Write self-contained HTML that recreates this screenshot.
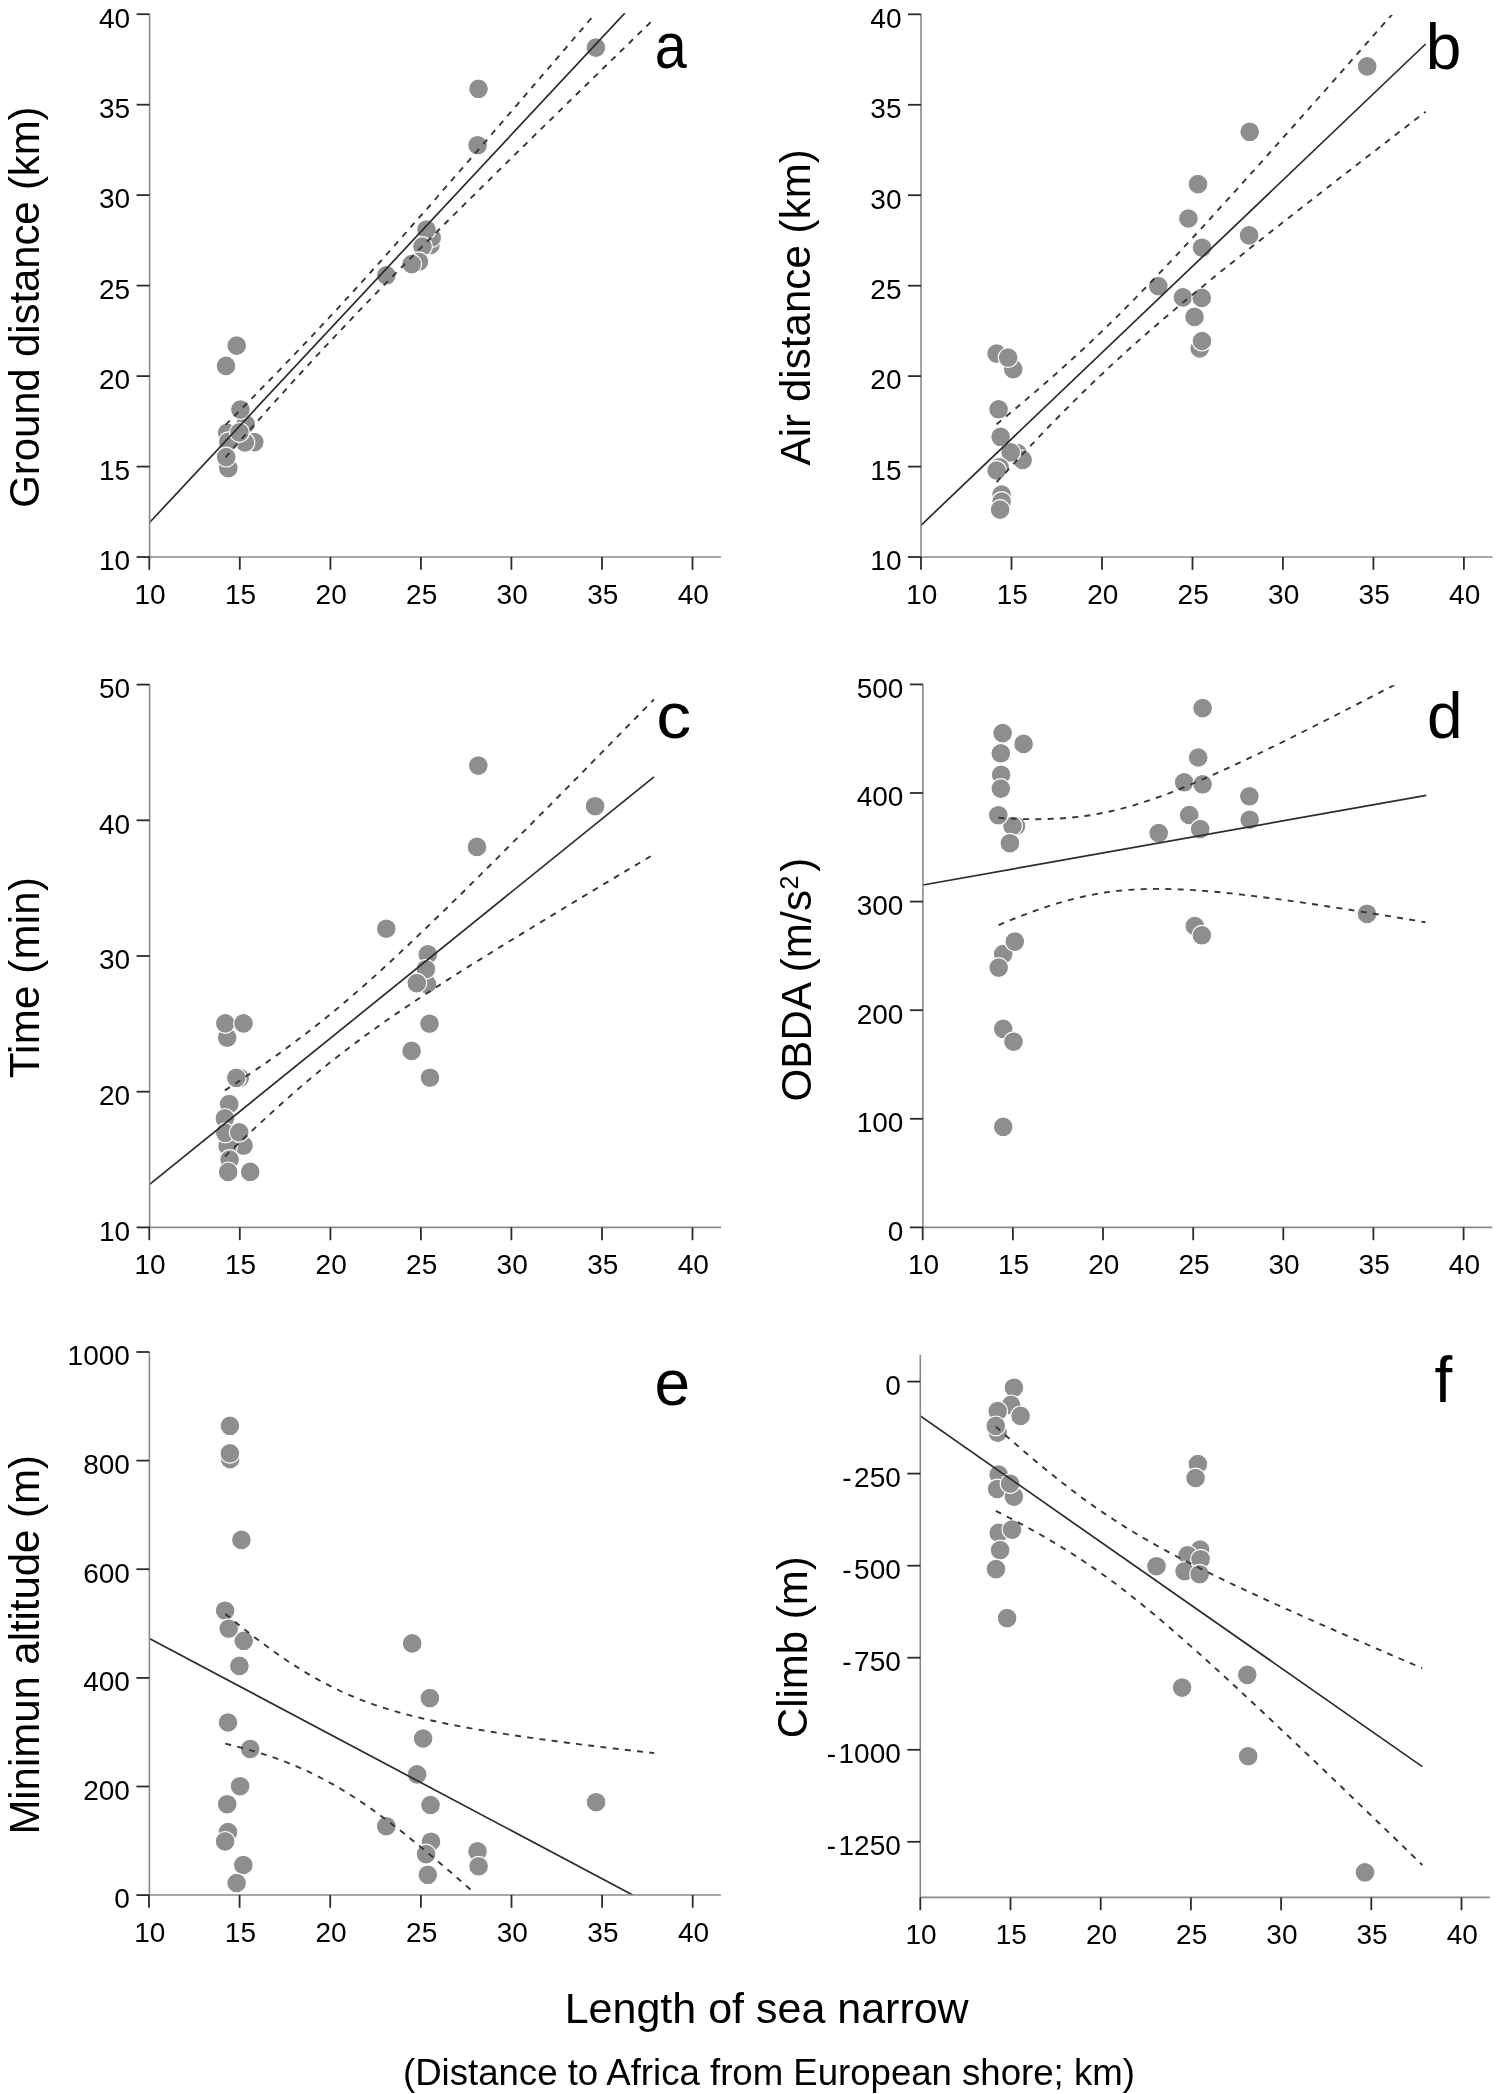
<!DOCTYPE html>
<html><head><meta charset="utf-8"><title>Figure</title>
<style>html,body{margin:0;padding:0;background:#fff;}body{width:1498px;height:2094px;position:relative;overflow:hidden;font-family:"Liberation Sans",sans-serif;}</style>
</head><body>
<svg width="1498" height="2094" viewBox="0 0 1498 2094" style="position:absolute;left:0;top:0;will-change:transform">
<defs>
<clipPath id="clipa"><rect x="149.6" y="13.2" width="571.4" height="543.8"/></clipPath>
<clipPath id="bclipa"><rect x="149.6" y="15.0" width="571.4" height="538.0"/></clipPath>
<clipPath id="clipb"><rect x="921.0" y="13.3" width="571.6" height="543.7"/></clipPath>
<clipPath id="bclipb"><rect x="921.0" y="15.1" width="571.6" height="537.9"/></clipPath>
<clipPath id="clipc"><rect x="149.6" y="683.6" width="571.4" height="543.8"/></clipPath>
<clipPath id="bclipc"><rect x="149.6" y="685.4" width="571.4" height="538.0"/></clipPath>
<clipPath id="clipd"><rect x="922.9" y="683.4" width="569.3" height="544.0"/></clipPath>
<clipPath id="bclipd"><rect x="922.9" y="685.2" width="569.3" height="538.2"/></clipPath>
<clipPath id="clipe"><rect x="149.4" y="1351.0" width="571.5" height="544.0"/></clipPath>
<clipPath id="bclipe"><rect x="149.4" y="1352.8" width="571.5" height="538.2"/></clipPath>
<clipPath id="clipf"><rect x="920.3" y="1353.8" width="569.5" height="543.6"/></clipPath>
<clipPath id="bclipf"><rect x="920.3" y="1355.6" width="569.5" height="537.8"/></clipPath>
</defs>
<g fill="#8e8e8e" stroke="#fff" stroke-width="1.2">
<circle cx="236.7" cy="345.6" r="9.9"/>
<circle cx="226.0" cy="365.9" r="9.9"/>
<circle cx="245.7" cy="424.2" r="9.9"/>
<circle cx="240.4" cy="409.6" r="9.9"/>
<circle cx="227.1" cy="432.8" r="9.9"/>
<circle cx="254.3" cy="442.1" r="9.9"/>
<circle cx="244.9" cy="442.5" r="9.9"/>
<circle cx="228.3" cy="441.7" r="9.9"/>
<circle cx="239.4" cy="432.4" r="9.9"/>
<circle cx="228.3" cy="468.1" r="9.9"/>
<circle cx="226.2" cy="457.1" r="9.9"/>
<circle cx="430.5" cy="244.9" r="9.9"/>
<circle cx="431.7" cy="237.7" r="9.9"/>
<circle cx="426.5" cy="229.6" r="9.9"/>
<circle cx="422.5" cy="246.5" r="9.9"/>
<circle cx="418.9" cy="261.7" r="9.9"/>
<circle cx="411.7" cy="264.1" r="9.9"/>
<circle cx="386.4" cy="275.3" r="9.9"/>
<circle cx="478.5" cy="88.8" r="9.9"/>
<circle cx="477.6" cy="145.2" r="9.9"/>
<circle cx="595.9" cy="47.6" r="9.9"/>
</g>
<g clip-path="url(#clipa)" fill="none" stroke="#2b2b2b">
<line x1="149.6" y1="522.5" x2="653.5" y2="-17.6" stroke-width="1.7"/>
</g>
<g clip-path="url(#bclipa)" fill="none" stroke="#2b2b2b">
<path d="M225.5,424.9 L230.9,419.5 L236.3,414.0 L241.8,408.6 L247.2,403.1 L252.6,397.6 L258.0,392.1 L263.4,386.5 L268.8,381.0 L274.3,375.4 L279.7,369.8 L285.1,364.2 L290.5,358.6 L295.9,352.9 L301.3,347.2 L306.8,341.5 L312.2,335.8 L317.6,330.0 L323.0,324.2 L328.4,318.4 L333.9,312.6 L339.3,306.7 L344.7,300.8 L350.1,294.9 L355.5,289.0 L360.9,283.0 L366.4,277.0 L371.8,271.0 L377.2,265.0 L382.6,258.9 L388.0,252.9 L393.4,246.8 L398.9,240.7 L404.3,234.5 L409.7,228.4 L415.1,222.2 L420.5,216.1 L426.0,209.9 L431.4,203.7 L436.8,197.5 L442.2,191.3 L447.6,185.1 L453.0,178.8 L458.5,172.6 L463.9,166.4 L469.3,160.1 L474.7,153.9 L480.1,147.6 L485.6,141.3 L491.0,135.1 L496.4,128.8 L501.8,122.5 L507.2,116.2 L512.6,109.9 L518.1,103.6 L523.5,97.3 L528.9,91.0 L534.3,84.7 L539.7,78.4 L545.1,72.1 L550.6,65.8 L556.0,59.4 L561.4,53.1 L566.8,46.8 L572.2,40.5 L577.7,34.1 L583.1,27.8 L588.5,21.5 L593.9,15.1 L599.3,8.8 L604.7,2.5 L610.2,-3.9 L615.6,-10.2 L621.0,-16.5 L626.4,-22.9 L631.8,-29.2 L637.2,-35.6 L642.7,-41.9 L648.1,-48.3 L653.5,-54.6" stroke-width="1.9" stroke="#363636" stroke-dasharray="6 6.3"/>
<path d="M225.5,457.4 L230.9,451.2 L236.3,445.1 L241.8,438.9 L247.2,432.8 L252.6,426.7 L258.0,420.6 L263.4,414.5 L268.8,408.4 L274.3,402.4 L279.7,396.3 L285.1,390.3 L290.5,384.4 L295.9,378.4 L301.3,372.5 L306.8,366.6 L312.2,360.7 L317.6,354.8 L323.0,349.0 L328.4,343.2 L333.9,337.4 L339.3,331.7 L344.7,326.0 L350.1,320.3 L355.5,314.6 L360.9,308.9 L366.4,303.3 L371.8,297.7 L377.2,292.1 L382.6,286.6 L388.0,281.0 L393.4,275.5 L398.9,270.0 L404.3,264.5 L409.7,259.0 L415.1,253.6 L420.5,248.1 L426.0,242.7 L431.4,237.3 L436.8,231.8 L442.2,226.4 L447.6,221.0 L453.0,215.7 L458.5,210.3 L463.9,204.9 L469.3,199.5 L474.7,194.2 L480.1,188.8 L485.6,183.5 L491.0,178.2 L496.4,172.8 L501.8,167.5 L507.2,162.2 L512.6,156.8 L518.1,151.5 L523.5,146.2 L528.9,140.9 L534.3,135.6 L539.7,130.3 L545.1,125.0 L550.6,119.7 L556.0,114.4 L561.4,109.1 L566.8,103.8 L572.2,98.5 L577.7,93.2 L583.1,88.0 L588.5,82.7 L593.9,77.4 L599.3,72.1 L604.7,66.8 L610.2,61.6 L615.6,56.3 L621.0,51.0 L626.4,45.7 L631.8,40.5 L637.2,35.2 L642.7,29.9 L648.1,24.7 L653.5,19.4" stroke-width="1.9" stroke="#363636" stroke-dasharray="6 6.3"/>
</g>
<g stroke="#8a8a8a" stroke-width="1.6" fill="none">
<line x1="149.6" y1="14.2" x2="149.6" y2="557.0"/>
<line x1="149.6" y1="557.0" x2="721.0" y2="557.0"/>
</g>
<g stroke="#2a2a2a" stroke-width="1.8" fill="none">
<line x1="136.6" y1="14.2" x2="149.6" y2="14.2"/>
<line x1="136.6" y1="104.7" x2="149.6" y2="104.7"/>
<line x1="136.6" y1="195.1" x2="149.6" y2="195.1"/>
<line x1="136.6" y1="285.6" x2="149.6" y2="285.6"/>
<line x1="136.6" y1="376.1" x2="149.6" y2="376.1"/>
<line x1="136.6" y1="466.6" x2="149.6" y2="466.6"/>
<line x1="136.6" y1="557.0" x2="149.6" y2="557.0"/>
<line x1="149.3" y1="557.0" x2="149.3" y2="569.8"/>
<line x1="239.8" y1="557.0" x2="239.8" y2="569.8"/>
<line x1="330.4" y1="557.0" x2="330.4" y2="569.8"/>
<line x1="420.9" y1="557.0" x2="420.9" y2="569.8"/>
<line x1="511.4" y1="557.0" x2="511.4" y2="569.8"/>
<line x1="602.0" y1="557.0" x2="602.0" y2="569.8"/>
<line x1="692.5" y1="557.0" x2="692.5" y2="569.8"/>
</g>
<g font-family='"Liberation Sans", sans-serif' font-size="28" fill="#000">
<text x="130.1" y="27.5" text-anchor="end">40</text>
<text x="130.1" y="118.0" text-anchor="end">35</text>
<text x="130.1" y="208.4" text-anchor="end">30</text>
<text x="130.1" y="298.9" text-anchor="end">25</text>
<text x="130.1" y="389.4" text-anchor="end">20</text>
<text x="130.1" y="479.9" text-anchor="end">15</text>
<text x="130.1" y="570.3" text-anchor="end">10</text>
<text x="150.1" y="603.7" text-anchor="middle">10</text>
<text x="240.6" y="603.7" text-anchor="middle">15</text>
<text x="331.2" y="603.7" text-anchor="middle">20</text>
<text x="421.7" y="603.7" text-anchor="middle">25</text>
<text x="512.2" y="603.7" text-anchor="middle">30</text>
<text x="602.8" y="603.7" text-anchor="middle">35</text>
<text x="693.3" y="603.7" text-anchor="middle">40</text>
</g>
<text transform="translate(38.6,507.7) rotate(-90)" font-family='"Liberation Sans", sans-serif' font-size="42" textLength="401.3" lengthAdjust="spacing">Ground distance (km)</text>
<text transform="translate(654.7,68.4) scale(0.9,1)" font-family='"Liberation Sans", sans-serif' font-size="64">a</text>
<g fill="#8e8e8e" stroke="#fff" stroke-width="1.2">
<circle cx="996.6" cy="353.6" r="9.9"/>
<circle cx="1013.2" cy="369.1" r="9.9"/>
<circle cx="1008.1" cy="357.6" r="9.9"/>
<circle cx="998.6" cy="409.3" r="9.9"/>
<circle cx="1000.6" cy="436.8" r="9.9"/>
<circle cx="1017.5" cy="453.0" r="9.9"/>
<circle cx="1022.7" cy="459.9" r="9.9"/>
<circle cx="1010.7" cy="452.4" r="9.9"/>
<circle cx="999.6" cy="467.4" r="9.9"/>
<circle cx="996.6" cy="470.5" r="9.9"/>
<circle cx="1001.6" cy="494.5" r="9.9"/>
<circle cx="1001.6" cy="501.5" r="9.9"/>
<circle cx="1000.1" cy="509.6" r="9.9"/>
<circle cx="1198.0" cy="184.1" r="9.9"/>
<circle cx="1188.4" cy="218.5" r="9.9"/>
<circle cx="1202.0" cy="247.7" r="9.9"/>
<circle cx="1249.1" cy="235.4" r="9.9"/>
<circle cx="1158.3" cy="286.1" r="9.9"/>
<circle cx="1182.9" cy="297.4" r="9.9"/>
<circle cx="1201.7" cy="297.9" r="9.9"/>
<circle cx="1194.5" cy="316.9" r="9.9"/>
<circle cx="1199.7" cy="348.5" r="9.9"/>
<circle cx="1202.0" cy="341.0" r="9.9"/>
<circle cx="1249.7" cy="131.8" r="9.9"/>
<circle cx="1367.2" cy="66.4" r="9.9"/>
</g>
<g clip-path="url(#clipb)" fill="none" stroke="#2b2b2b">
<line x1="921.0" y1="525.3" x2="1425.6" y2="44.0" stroke-width="1.7"/>
</g>
<g clip-path="url(#bclipb)" fill="none" stroke="#2b2b2b">
<path d="M996.6,424.2 L1002.0,419.8 L1007.5,415.3 L1012.9,410.7 L1018.3,406.2 L1023.8,401.6 L1029.2,397.0 L1034.6,392.4 L1040.0,387.7 L1045.5,383.0 L1050.9,378.2 L1056.3,373.5 L1061.8,368.6 L1067.2,363.7 L1072.6,358.8 L1078.1,353.8 L1083.5,348.8 L1088.9,343.7 L1094.3,338.6 L1099.8,333.4 L1105.2,328.2 L1110.6,322.9 L1116.1,317.6 L1121.5,312.2 L1126.9,306.7 L1132.4,301.2 L1137.8,295.7 L1143.2,290.1 L1148.7,284.5 L1154.1,278.9 L1159.5,273.2 L1164.9,267.4 L1170.4,261.7 L1175.8,255.9 L1181.2,250.1 L1186.7,244.2 L1192.1,238.4 L1197.5,232.5 L1203.0,226.6 L1208.4,220.7 L1213.8,214.7 L1219.2,208.7 L1224.7,202.8 L1230.1,196.8 L1235.5,190.8 L1241.0,184.7 L1246.4,178.7 L1251.8,172.7 L1257.3,166.6 L1262.7,160.6 L1268.1,154.5 L1273.5,148.4 L1279.0,142.3 L1284.4,136.2 L1289.8,130.1 L1295.3,124.0 L1300.7,117.9 L1306.1,111.8 L1311.6,105.7 L1317.0,99.5 L1322.4,93.4 L1327.9,87.3 L1333.3,81.1 L1338.7,75.0 L1344.1,68.8 L1349.6,62.7 L1355.0,56.5 L1360.4,50.4 L1365.9,44.2 L1371.3,38.1 L1376.7,31.9 L1382.2,25.7 L1387.6,19.5 L1393.0,13.4 L1398.4,7.2 L1403.9,1.0 L1409.3,-5.2 L1414.7,-11.3 L1420.2,-17.5 L1425.6,-23.7" stroke-width="1.9" stroke="#363636" stroke-dasharray="6 6.3"/>
<path d="M996.6,482.1 L1002.0,476.2 L1007.5,470.4 L1012.9,464.5 L1018.3,458.7 L1023.8,452.9 L1029.2,447.2 L1034.6,441.5 L1040.0,435.8 L1045.5,430.1 L1050.9,424.5 L1056.3,419.0 L1061.8,413.4 L1067.2,408.0 L1072.6,402.5 L1078.1,397.1 L1083.5,391.8 L1088.9,386.5 L1094.3,381.3 L1099.8,376.1 L1105.2,371.0 L1110.6,365.9 L1116.1,360.9 L1121.5,356.0 L1126.9,351.0 L1132.4,346.2 L1137.8,341.3 L1143.2,336.5 L1148.7,331.8 L1154.1,327.1 L1159.5,322.4 L1164.9,317.8 L1170.4,313.2 L1175.8,308.6 L1181.2,304.1 L1186.7,299.6 L1192.1,295.1 L1197.5,290.6 L1203.0,286.2 L1208.4,281.7 L1213.8,277.3 L1219.2,272.9 L1224.7,268.5 L1230.1,264.2 L1235.5,259.8 L1241.0,255.5 L1246.4,251.2 L1251.8,246.8 L1257.3,242.5 L1262.7,238.2 L1268.1,233.9 L1273.5,229.7 L1279.0,225.4 L1284.4,221.1 L1289.8,216.9 L1295.3,212.6 L1300.7,208.4 L1306.1,204.1 L1311.6,199.9 L1317.0,195.7 L1322.4,191.4 L1327.9,187.2 L1333.3,183.0 L1338.7,178.8 L1344.1,174.6 L1349.6,170.4 L1355.0,166.2 L1360.4,162.0 L1365.9,157.8 L1371.3,153.6 L1376.7,149.4 L1382.2,145.2 L1387.6,141.0 L1393.0,136.8 L1398.4,132.6 L1403.9,128.5 L1409.3,124.3 L1414.7,120.1 L1420.2,115.9 L1425.6,111.8" stroke-width="1.9" stroke="#363636" stroke-dasharray="6 6.3"/>
</g>
<g stroke="#8a8a8a" stroke-width="1.6" fill="none">
<line x1="921.0" y1="14.3" x2="921.0" y2="557.0"/>
<line x1="921.0" y1="557.0" x2="1492.6" y2="557.0"/>
</g>
<g stroke="#2a2a2a" stroke-width="1.8" fill="none">
<line x1="908.0" y1="14.3" x2="921.0" y2="14.3"/>
<line x1="908.0" y1="104.8" x2="921.0" y2="104.8"/>
<line x1="908.0" y1="195.2" x2="921.0" y2="195.2"/>
<line x1="908.0" y1="285.7" x2="921.0" y2="285.7"/>
<line x1="908.0" y1="376.1" x2="921.0" y2="376.1"/>
<line x1="908.0" y1="466.6" x2="921.0" y2="466.6"/>
<line x1="908.0" y1="557.0" x2="921.0" y2="557.0"/>
<line x1="921.0" y1="557.0" x2="921.0" y2="569.8"/>
<line x1="1011.5" y1="557.0" x2="1011.5" y2="569.8"/>
<line x1="1102.0" y1="557.0" x2="1102.0" y2="569.8"/>
<line x1="1192.5" y1="557.0" x2="1192.5" y2="569.8"/>
<line x1="1282.9" y1="557.0" x2="1282.9" y2="569.8"/>
<line x1="1373.4" y1="557.0" x2="1373.4" y2="569.8"/>
<line x1="1463.9" y1="557.0" x2="1463.9" y2="569.8"/>
</g>
<g font-family='"Liberation Sans", sans-serif' font-size="28" fill="#000">
<text x="901.5" y="27.6" text-anchor="end">40</text>
<text x="901.5" y="118.0" text-anchor="end">35</text>
<text x="901.5" y="208.5" text-anchor="end">30</text>
<text x="901.5" y="299.0" text-anchor="end">25</text>
<text x="901.5" y="389.4" text-anchor="end">20</text>
<text x="901.5" y="479.9" text-anchor="end">15</text>
<text x="901.5" y="570.3" text-anchor="end">10</text>
<text x="921.8" y="603.7" text-anchor="middle">10</text>
<text x="1012.3" y="603.7" text-anchor="middle">15</text>
<text x="1102.8" y="603.7" text-anchor="middle">20</text>
<text x="1193.2" y="603.7" text-anchor="middle">25</text>
<text x="1283.7" y="603.7" text-anchor="middle">30</text>
<text x="1374.2" y="603.7" text-anchor="middle">35</text>
<text x="1464.7" y="603.7" text-anchor="middle">40</text>
</g>
<text transform="translate(810.0,465.4) rotate(-90)" font-family='"Liberation Sans", sans-serif' font-size="42" textLength="316.2" lengthAdjust="spacing">Air distance (km)</text>
<text x="1425.7" y="69.3" font-family='"Liberation Sans", sans-serif' font-size="64">b</text>
<g fill="#8e8e8e" stroke="#fff" stroke-width="1.2">
<circle cx="227.2" cy="1037.7" r="9.9"/>
<circle cx="225.3" cy="1023.4" r="9.9"/>
<circle cx="243.5" cy="1023.4" r="9.9"/>
<circle cx="239.7" cy="1077.8" r="9.9"/>
<circle cx="236.3" cy="1077.8" r="9.9"/>
<circle cx="229.2" cy="1104.1" r="9.9"/>
<circle cx="224.9" cy="1118.4" r="9.9"/>
<circle cx="243.5" cy="1145.7" r="9.9"/>
<circle cx="227.7" cy="1146.1" r="9.9"/>
<circle cx="225.3" cy="1132.8" r="9.9"/>
<circle cx="239.2" cy="1132.3" r="9.9"/>
<circle cx="229.6" cy="1159.5" r="9.9"/>
<circle cx="228.2" cy="1171.9" r="9.9"/>
<circle cx="250.2" cy="1171.9" r="9.9"/>
<circle cx="386.3" cy="928.7" r="9.9"/>
<circle cx="427.8" cy="954.4" r="9.9"/>
<circle cx="426.9" cy="984.0" r="9.9"/>
<circle cx="425.9" cy="969.2" r="9.9"/>
<circle cx="416.8" cy="983.1" r="9.9"/>
<circle cx="429.5" cy="1023.7" r="9.9"/>
<circle cx="411.6" cy="1050.9" r="9.9"/>
<circle cx="430.0" cy="1077.7" r="9.9"/>
<circle cx="478.3" cy="765.6" r="9.9"/>
<circle cx="477.0" cy="846.9" r="9.9"/>
<circle cx="595.1" cy="806.2" r="9.9"/>
</g>
<g clip-path="url(#clipc)" fill="none" stroke="#2b2b2b">
<line x1="149.6" y1="1184.3" x2="654.0" y2="776.8" stroke-width="1.7"/>
</g>
<g clip-path="url(#bclipc)" fill="none" stroke="#2b2b2b">
<path d="M224.9,1090.4 L230.3,1086.9 L235.8,1083.3 L241.2,1079.7 L246.6,1076.0 L252.1,1072.3 L257.5,1068.6 L262.9,1064.9 L268.4,1061.1 L273.8,1057.3 L279.2,1053.4 L284.6,1049.5 L290.1,1045.5 L295.5,1041.4 L300.9,1037.4 L306.4,1033.2 L311.8,1029.0 L317.2,1024.8 L322.7,1020.4 L328.1,1016.1 L333.5,1011.6 L339.0,1007.1 L344.4,1002.5 L349.8,997.9 L355.3,993.2 L360.7,988.5 L366.1,983.7 L371.6,978.9 L377.0,974.0 L382.4,969.0 L387.8,964.1 L393.3,959.0 L398.7,954.0 L404.1,948.9 L409.6,943.8 L415.0,938.6 L420.4,933.4 L425.9,928.2 L431.3,923.0 L436.7,917.7 L442.2,912.5 L447.6,907.2 L453.0,901.9 L458.5,896.5 L463.9,891.2 L469.3,885.8 L474.8,880.4 L480.2,875.1 L485.6,869.7 L491.1,864.3 L496.5,858.8 L501.9,853.4 L507.3,848.0 L512.8,842.5 L518.2,837.1 L523.6,831.6 L529.1,826.2 L534.5,820.7 L539.9,815.2 L545.4,809.8 L550.8,804.3 L556.2,798.8 L561.7,793.3 L567.1,787.8 L572.5,782.3 L578.0,776.8 L583.4,771.3 L588.8,765.7 L594.3,760.2 L599.7,754.7 L605.1,749.2 L610.5,743.6 L616.0,738.1 L621.4,732.6 L626.8,727.0 L632.3,721.5 L637.7,716.0 L643.1,710.4 L648.6,704.9 L654.0,699.3" stroke-width="1.9" stroke="#363636" stroke-dasharray="6 6.3"/>
<path d="M224.9,1156.4 L230.3,1151.2 L235.8,1146.0 L241.2,1140.9 L246.6,1135.7 L252.1,1130.6 L257.5,1125.6 L262.9,1120.6 L268.4,1115.6 L273.8,1110.6 L279.2,1105.7 L284.6,1100.9 L290.1,1096.1 L295.5,1091.3 L300.9,1086.6 L306.4,1082.0 L311.8,1077.4 L317.2,1072.9 L322.7,1068.5 L328.1,1064.1 L333.5,1059.7 L339.0,1055.5 L344.4,1051.3 L349.8,1047.1 L355.3,1043.0 L360.7,1039.0 L366.1,1035.0 L371.6,1031.1 L377.0,1027.2 L382.4,1023.3 L387.8,1019.5 L393.3,1015.8 L398.7,1012.1 L404.1,1008.4 L409.6,1004.7 L415.0,1001.1 L420.4,997.5 L425.9,994.0 L431.3,990.4 L436.7,986.9 L442.2,983.4 L447.6,979.9 L453.0,976.4 L458.5,973.0 L463.9,969.6 L469.3,966.1 L474.8,962.7 L480.2,959.4 L485.6,956.0 L491.1,952.6 L496.5,949.2 L501.9,945.9 L507.3,942.6 L512.8,939.2 L518.2,935.9 L523.6,932.6 L529.1,929.3 L534.5,926.0 L539.9,922.7 L545.4,919.4 L550.8,916.1 L556.2,912.8 L561.7,909.5 L567.1,906.2 L572.5,903.0 L578.0,899.7 L583.4,896.4 L588.8,893.2 L594.3,889.9 L599.7,886.7 L605.1,883.4 L610.5,880.2 L616.0,876.9 L621.4,873.7 L626.8,870.4 L632.3,867.2 L637.7,864.0 L643.1,860.7 L648.6,857.5 L654.0,854.3" stroke-width="1.9" stroke="#363636" stroke-dasharray="6 6.3"/>
</g>
<g stroke="#8a8a8a" stroke-width="1.6" fill="none">
<line x1="149.6" y1="684.6" x2="149.6" y2="1227.4"/>
<line x1="149.6" y1="1227.4" x2="721.0" y2="1227.4"/>
</g>
<g stroke="#2a2a2a" stroke-width="1.8" fill="none">
<line x1="136.6" y1="684.6" x2="149.6" y2="684.6"/>
<line x1="136.6" y1="820.3" x2="149.6" y2="820.3"/>
<line x1="136.6" y1="956.0" x2="149.6" y2="956.0"/>
<line x1="136.6" y1="1091.7" x2="149.6" y2="1091.7"/>
<line x1="136.6" y1="1227.4" x2="149.6" y2="1227.4"/>
<line x1="149.3" y1="1227.4" x2="149.3" y2="1240.2"/>
<line x1="239.8" y1="1227.4" x2="239.8" y2="1240.2"/>
<line x1="330.4" y1="1227.4" x2="330.4" y2="1240.2"/>
<line x1="420.9" y1="1227.4" x2="420.9" y2="1240.2"/>
<line x1="511.4" y1="1227.4" x2="511.4" y2="1240.2"/>
<line x1="602.0" y1="1227.4" x2="602.0" y2="1240.2"/>
<line x1="692.5" y1="1227.4" x2="692.5" y2="1240.2"/>
</g>
<g font-family='"Liberation Sans", sans-serif' font-size="28" fill="#000">
<text x="130.1" y="697.9" text-anchor="end">50</text>
<text x="130.1" y="833.6" text-anchor="end">40</text>
<text x="130.1" y="969.3" text-anchor="end">30</text>
<text x="130.1" y="1105.0" text-anchor="end">20</text>
<text x="130.1" y="1240.7" text-anchor="end">10</text>
<text x="150.1" y="1274.1" text-anchor="middle">10</text>
<text x="240.6" y="1274.1" text-anchor="middle">15</text>
<text x="331.2" y="1274.1" text-anchor="middle">20</text>
<text x="421.7" y="1274.1" text-anchor="middle">25</text>
<text x="512.2" y="1274.1" text-anchor="middle">30</text>
<text x="602.8" y="1274.1" text-anchor="middle">35</text>
<text x="693.3" y="1274.1" text-anchor="middle">40</text>
</g>
<text transform="translate(38.6,1078.2) rotate(-90)" font-family='"Liberation Sans", sans-serif' font-size="42" textLength="201.1" lengthAdjust="spacing">Time (min)</text>
<text transform="translate(656.3,737.5) scale(1.09,1)" font-family='"Liberation Sans", sans-serif' font-size="64">c</text>
<g fill="#8e8e8e" stroke="#fff" stroke-width="1.2">
<circle cx="1002.6" cy="733.1" r="9.9"/>
<circle cx="1023.6" cy="743.9" r="9.9"/>
<circle cx="1000.8" cy="753.3" r="9.9"/>
<circle cx="1001.1" cy="774.8" r="9.9"/>
<circle cx="1000.8" cy="788.6" r="9.9"/>
<circle cx="1016.0" cy="826.0" r="9.9"/>
<circle cx="1012.5" cy="826.0" r="9.9"/>
<circle cx="998.3" cy="815.2" r="9.9"/>
<circle cx="1009.9" cy="843.2" r="9.9"/>
<circle cx="1003.2" cy="954.1" r="9.9"/>
<circle cx="1014.8" cy="941.6" r="9.9"/>
<circle cx="998.7" cy="967.6" r="9.9"/>
<circle cx="1003.2" cy="1028.8" r="9.9"/>
<circle cx="1013.5" cy="1041.7" r="9.9"/>
<circle cx="1003.2" cy="1126.8" r="9.9"/>
<circle cx="1202.6" cy="708.1" r="9.9"/>
<circle cx="1198.2" cy="757.5" r="9.9"/>
<circle cx="1184.1" cy="782.3" r="9.9"/>
<circle cx="1202.6" cy="784.3" r="9.9"/>
<circle cx="1249.4" cy="796.3" r="9.9"/>
<circle cx="1189.2" cy="815.0" r="9.9"/>
<circle cx="1200.2" cy="829.1" r="9.9"/>
<circle cx="1249.7" cy="819.7" r="9.9"/>
<circle cx="1158.7" cy="833.1" r="9.9"/>
<circle cx="1194.8" cy="926.0" r="9.9"/>
<circle cx="1201.9" cy="935.3" r="9.9"/>
<circle cx="1367.0" cy="913.9" r="9.9"/>
</g>
<g clip-path="url(#clipd)" fill="none" stroke="#2b2b2b">
<line x1="922.9" y1="885.0" x2="1426.2" y2="795.3" stroke-width="1.7"/>
</g>
<g clip-path="url(#bclipd)" fill="none" stroke="#2b2b2b">
<path d="M998.5,817.8 L1003.9,818.2 L1009.3,818.5 L1014.7,818.7 L1020.1,818.9 L1025.5,819.1 L1030.9,819.1 L1036.3,819.2 L1041.7,819.1 L1047.1,819.0 L1052.6,818.8 L1058.0,818.6 L1063.4,818.2 L1068.8,817.8 L1074.2,817.3 L1079.6,816.7 L1085.0,816.0 L1090.4,815.2 L1095.8,814.3 L1101.2,813.3 L1106.6,812.2 L1112.0,811.0 L1117.4,809.7 L1122.8,808.3 L1128.2,806.8 L1133.6,805.3 L1139.0,803.6 L1144.4,801.9 L1149.8,800.1 L1155.2,798.2 L1160.7,796.3 L1166.1,794.3 L1171.5,792.3 L1176.9,790.2 L1182.3,788.0 L1187.7,785.8 L1193.1,783.5 L1198.5,781.2 L1203.9,778.9 L1209.3,776.5 L1214.7,774.1 L1220.1,771.7 L1225.5,769.2 L1230.9,766.8 L1236.3,764.2 L1241.7,761.7 L1247.1,759.2 L1252.5,756.6 L1257.9,754.0 L1263.3,751.4 L1268.8,748.7 L1274.2,746.1 L1279.6,743.5 L1285.0,740.8 L1290.4,738.1 L1295.8,735.4 L1301.2,732.7 L1306.6,730.0 L1312.0,727.3 L1317.4,724.5 L1322.8,721.8 L1328.2,719.0 L1333.6,716.3 L1339.0,713.5 L1344.4,710.8 L1349.8,708.0 L1355.2,705.2 L1360.6,702.4 L1366.0,699.6 L1371.4,696.8 L1376.9,694.0 L1382.3,691.2 L1387.7,688.4 L1393.1,685.6 L1398.5,682.7 L1403.9,679.9 L1409.3,677.1 L1414.7,674.3 L1420.1,671.4 L1425.5,668.6" stroke-width="1.9" stroke="#363636" stroke-dasharray="6 6.3"/>
<path d="M998.5,925.2 L1003.9,922.9 L1009.3,920.7 L1014.7,918.5 L1020.1,916.4 L1025.5,914.3 L1030.9,912.3 L1036.3,910.3 L1041.7,908.5 L1047.1,906.6 L1052.6,904.9 L1058.0,903.2 L1063.4,901.7 L1068.8,900.2 L1074.2,898.8 L1079.6,897.4 L1085.0,896.2 L1090.4,895.1 L1095.8,894.1 L1101.2,893.1 L1106.6,892.3 L1112.0,891.6 L1117.4,890.9 L1122.8,890.4 L1128.2,889.9 L1133.6,889.6 L1139.0,889.3 L1144.4,889.1 L1149.8,889.0 L1155.2,888.9 L1160.7,888.9 L1166.1,889.0 L1171.5,889.1 L1176.9,889.3 L1182.3,889.5 L1187.7,889.8 L1193.1,890.1 L1198.5,890.5 L1203.9,890.9 L1209.3,891.4 L1214.7,891.8 L1220.1,892.3 L1225.5,892.9 L1230.9,893.4 L1236.3,894.0 L1241.7,894.6 L1247.1,895.2 L1252.5,895.9 L1257.9,896.6 L1263.3,897.3 L1268.8,898.0 L1274.2,898.7 L1279.6,899.4 L1285.0,900.1 L1290.4,900.9 L1295.8,901.7 L1301.2,902.4 L1306.6,903.2 L1312.0,904.0 L1317.4,904.8 L1322.8,905.6 L1328.2,906.5 L1333.6,907.3 L1339.0,908.1 L1344.4,909.0 L1349.8,909.8 L1355.2,910.7 L1360.6,911.6 L1366.0,912.4 L1371.4,913.3 L1376.9,914.2 L1382.3,915.1 L1387.7,915.9 L1393.1,916.8 L1398.5,917.7 L1403.9,918.6 L1409.3,919.5 L1414.7,920.4 L1420.1,921.4 L1425.5,922.3" stroke-width="1.9" stroke="#363636" stroke-dasharray="6 6.3"/>
</g>
<g stroke="#8a8a8a" stroke-width="1.6" fill="none">
<line x1="922.9" y1="684.4" x2="922.9" y2="1227.4"/>
<line x1="922.9" y1="1227.4" x2="1492.2" y2="1227.4"/>
</g>
<g stroke="#2a2a2a" stroke-width="1.8" fill="none">
<line x1="909.9" y1="684.4" x2="922.9" y2="684.4"/>
<line x1="909.9" y1="793.0" x2="922.9" y2="793.0"/>
<line x1="909.9" y1="901.6" x2="922.9" y2="901.6"/>
<line x1="909.9" y1="1010.2" x2="922.9" y2="1010.2"/>
<line x1="909.9" y1="1118.8" x2="922.9" y2="1118.8"/>
<line x1="909.9" y1="1227.4" x2="922.9" y2="1227.4"/>
<line x1="922.7" y1="1227.4" x2="922.7" y2="1240.2"/>
<line x1="1012.9" y1="1227.4" x2="1012.9" y2="1240.2"/>
<line x1="1103.0" y1="1227.4" x2="1103.0" y2="1240.2"/>
<line x1="1193.2" y1="1227.4" x2="1193.2" y2="1240.2"/>
<line x1="1283.3" y1="1227.4" x2="1283.3" y2="1240.2"/>
<line x1="1373.4" y1="1227.4" x2="1373.4" y2="1240.2"/>
<line x1="1463.6" y1="1227.4" x2="1463.6" y2="1240.2"/>
</g>
<g font-family='"Liberation Sans", sans-serif' font-size="28" fill="#000">
<text x="903.4" y="697.7" text-anchor="end">500</text>
<text x="903.4" y="806.3" text-anchor="end">400</text>
<text x="903.4" y="914.9" text-anchor="end">300</text>
<text x="903.4" y="1023.5" text-anchor="end">200</text>
<text x="903.4" y="1132.1" text-anchor="end">100</text>
<text x="903.4" y="1240.7" text-anchor="end">0</text>
<text x="923.5" y="1274.1" text-anchor="middle">10</text>
<text x="1013.6" y="1274.1" text-anchor="middle">15</text>
<text x="1103.8" y="1274.1" text-anchor="middle">20</text>
<text x="1194.0" y="1274.1" text-anchor="middle">25</text>
<text x="1284.1" y="1274.1" text-anchor="middle">30</text>
<text x="1374.2" y="1274.1" text-anchor="middle">35</text>
<text x="1464.4" y="1274.1" text-anchor="middle">40</text>
</g>
<text transform="translate(810.9,1101.6) rotate(-90)" font-family='"Liberation Sans", sans-serif' font-size="42" textLength="211.5" lengthAdjust="spacing">OBDA (m/s</text>
<text transform="translate(798.0,889.4) rotate(-90)" font-family='"Liberation Sans", sans-serif' font-size="25">2</text>
<text transform="translate(810.9,871.8) rotate(-90)" font-family='"Liberation Sans", sans-serif' font-size="42">)</text>
<text x="1426.9" y="737.9" font-family='"Liberation Sans", sans-serif' font-size="64">d</text>
<g fill="#8e8e8e" stroke="#fff" stroke-width="1.2">
<circle cx="229.9" cy="1425.8" r="9.9"/>
<circle cx="230.1" cy="1459.1" r="9.9"/>
<circle cx="229.9" cy="1453.3" r="9.9"/>
<circle cx="241.4" cy="1539.9" r="9.9"/>
<circle cx="225.1" cy="1610.7" r="9.9"/>
<circle cx="243.7" cy="1640.8" r="9.9"/>
<circle cx="228.7" cy="1628.7" r="9.9"/>
<circle cx="239.4" cy="1665.9" r="9.9"/>
<circle cx="228.0" cy="1722.5" r="9.9"/>
<circle cx="250.2" cy="1749.0" r="9.9"/>
<circle cx="240.1" cy="1786.2" r="9.9"/>
<circle cx="227.2" cy="1804.2" r="9.9"/>
<circle cx="228.0" cy="1832.1" r="9.9"/>
<circle cx="225.1" cy="1841.4" r="9.9"/>
<circle cx="243.3" cy="1865.0" r="9.9"/>
<circle cx="236.6" cy="1883.0" r="9.9"/>
<circle cx="386.3" cy="1826.2" r="9.9"/>
<circle cx="412.2" cy="1643.4" r="9.9"/>
<circle cx="429.9" cy="1698.1" r="9.9"/>
<circle cx="423.1" cy="1738.5" r="9.9"/>
<circle cx="417.1" cy="1774.4" r="9.9"/>
<circle cx="430.5" cy="1805.0" r="9.9"/>
<circle cx="431.0" cy="1841.7" r="9.9"/>
<circle cx="426.1" cy="1854.1" r="9.9"/>
<circle cx="427.8" cy="1874.8" r="9.9"/>
<circle cx="477.5" cy="1851.3" r="9.9"/>
<circle cx="478.6" cy="1866.3" r="9.9"/>
<circle cx="596.1" cy="1802.2" r="9.9"/>
</g>
<g clip-path="url(#clipe)" fill="none" stroke="#2b2b2b">
<line x1="149.4" y1="1638.5" x2="654.2" y2="1906.4" stroke-width="1.7"/>
</g>
<g clip-path="url(#bclipe)" fill="none" stroke="#2b2b2b">
<path d="M225.3,1613.9 L230.7,1618.3 L236.2,1622.7 L241.6,1627.1 L247.0,1631.4 L252.4,1635.6 L257.9,1639.7 L263.3,1643.8 L268.7,1647.8 L274.2,1651.7 L279.6,1655.5 L285.0,1659.2 L290.4,1662.9 L295.9,1666.4 L301.3,1669.8 L306.7,1673.1 L312.2,1676.3 L317.6,1679.4 L323.0,1682.3 L328.5,1685.2 L333.9,1687.9 L339.3,1690.5 L344.7,1693.0 L350.2,1695.4 L355.6,1697.6 L361.0,1699.8 L366.5,1701.9 L371.9,1703.8 L377.3,1705.7 L382.7,1707.5 L388.2,1709.2 L393.6,1710.8 L399.0,1712.4 L404.5,1713.9 L409.9,1715.3 L415.3,1716.7 L420.7,1718.0 L426.2,1719.3 L431.6,1720.5 L437.0,1721.7 L442.5,1722.9 L447.9,1724.0 L453.3,1725.1 L458.8,1726.1 L464.2,1727.1 L469.6,1728.1 L475.0,1729.1 L480.5,1730.0 L485.9,1730.9 L491.3,1731.8 L496.8,1732.7 L502.2,1733.5 L507.6,1734.4 L513.0,1735.2 L518.5,1736.0 L523.9,1736.8 L529.3,1737.6 L534.8,1738.3 L540.2,1739.1 L545.6,1739.8 L551.0,1740.6 L556.5,1741.3 L561.9,1742.0 L567.3,1742.7 L572.8,1743.4 L578.2,1744.1 L583.6,1744.8 L589.1,1745.5 L594.5,1746.1 L599.9,1746.8 L605.3,1747.5 L610.8,1748.1 L616.2,1748.8 L621.6,1749.4 L627.1,1750.0 L632.5,1750.7 L637.9,1751.3 L643.3,1751.9 L648.8,1752.5 L654.2,1753.1" stroke-width="1.9" stroke="#363636" stroke-dasharray="6 6.3"/>
<path d="M225.3,1743.7 L230.7,1745.0 L236.2,1746.4 L241.6,1747.8 L247.0,1749.3 L252.4,1750.8 L257.9,1752.4 L263.3,1754.1 L268.7,1755.9 L274.2,1757.7 L279.6,1759.7 L285.0,1761.7 L290.4,1763.9 L295.9,1766.1 L301.3,1768.4 L306.7,1770.9 L312.2,1773.5 L317.6,1776.2 L323.0,1779.0 L328.5,1781.9 L333.9,1784.9 L339.3,1788.1 L344.7,1791.4 L350.2,1794.7 L355.6,1798.2 L361.0,1801.8 L366.5,1805.5 L371.9,1809.3 L377.3,1813.2 L382.7,1817.2 L388.2,1821.2 L393.6,1825.4 L399.0,1829.6 L404.5,1833.8 L409.9,1838.2 L415.3,1842.5 L420.7,1847.0 L426.2,1851.5 L431.6,1856.0 L437.0,1860.6 L442.5,1865.2 L447.9,1869.8 L453.3,1874.5 L458.8,1879.2 L464.2,1884.0 L469.6,1888.8 L475.0,1893.6 L480.5,1898.4 L485.9,1903.2 L491.3,1908.1 L496.8,1913.0 L502.2,1917.9 L507.6,1922.8 L513.0,1927.8 L518.5,1932.7 L523.9,1937.7 L529.3,1942.7 L534.8,1947.7 L540.2,1952.7 L545.6,1957.7 L551.0,1962.7 L556.5,1967.8 L561.9,1972.8 L567.3,1977.9 L572.8,1982.9 L578.2,1988.0 L583.6,1993.1 L589.1,1998.2 L594.5,2003.3 L599.9,2008.4 L605.3,2013.5 L610.8,2018.6 L616.2,2023.7 L621.6,2028.8 L627.1,2033.9 L632.5,2039.1 L637.9,2044.2 L643.3,2049.3 L648.8,2054.5 L654.2,2059.6" stroke-width="1.9" stroke="#363636" stroke-dasharray="6 6.3"/>
</g>
<g stroke="#8a8a8a" stroke-width="1.6" fill="none">
<line x1="149.4" y1="1352.0" x2="149.4" y2="1895.0"/>
<line x1="149.4" y1="1895.0" x2="720.9" y2="1895.0"/>
</g>
<g stroke="#2a2a2a" stroke-width="1.8" fill="none">
<line x1="136.4" y1="1352.0" x2="149.4" y2="1352.0"/>
<line x1="136.4" y1="1460.6" x2="149.4" y2="1460.6"/>
<line x1="136.4" y1="1569.2" x2="149.4" y2="1569.2"/>
<line x1="136.4" y1="1677.9" x2="149.4" y2="1677.9"/>
<line x1="136.4" y1="1786.5" x2="149.4" y2="1786.5"/>
<line x1="136.4" y1="1895.1" x2="149.4" y2="1895.1"/>
<line x1="149.0" y1="1895.0" x2="149.0" y2="1907.8"/>
<line x1="239.6" y1="1895.0" x2="239.6" y2="1907.8"/>
<line x1="330.2" y1="1895.0" x2="330.2" y2="1907.8"/>
<line x1="420.9" y1="1895.0" x2="420.9" y2="1907.8"/>
<line x1="511.5" y1="1895.0" x2="511.5" y2="1907.8"/>
<line x1="602.1" y1="1895.0" x2="602.1" y2="1907.8"/>
<line x1="692.7" y1="1895.0" x2="692.7" y2="1907.8"/>
</g>
<g font-family='"Liberation Sans", sans-serif' font-size="28" fill="#000">
<text x="129.9" y="1365.3" text-anchor="end">1000</text>
<text x="129.9" y="1473.9" text-anchor="end">800</text>
<text x="129.9" y="1582.5" text-anchor="end">600</text>
<text x="129.9" y="1691.2" text-anchor="end">400</text>
<text x="129.9" y="1799.8" text-anchor="end">200</text>
<text x="129.9" y="1908.4" text-anchor="end">0</text>
<text x="149.8" y="1941.7" text-anchor="middle">10</text>
<text x="240.4" y="1941.7" text-anchor="middle">15</text>
<text x="331.0" y="1941.7" text-anchor="middle">20</text>
<text x="421.7" y="1941.7" text-anchor="middle">25</text>
<text x="512.3" y="1941.7" text-anchor="middle">30</text>
<text x="602.9" y="1941.7" text-anchor="middle">35</text>
<text x="693.5" y="1941.7" text-anchor="middle">40</text>
</g>
<text transform="translate(38.8,1834.6) rotate(-90)" font-family='"Liberation Sans", sans-serif' font-size="42" textLength="379.5" lengthAdjust="spacing">Minimun altitude (m)</text>
<text x="654.4" y="1405.0" font-family='"Liberation Sans", sans-serif' font-size="64">e</text>
<g fill="#8e8e8e" stroke="#fff" stroke-width="1.2">
<circle cx="1013.9" cy="1387.7" r="9.9"/>
<circle cx="1011.1" cy="1404.9" r="9.9"/>
<circle cx="997.7" cy="1411.1" r="9.9"/>
<circle cx="1020.6" cy="1415.9" r="9.9"/>
<circle cx="997.7" cy="1432.6" r="9.9"/>
<circle cx="995.8" cy="1425.9" r="9.9"/>
<circle cx="998.7" cy="1474.6" r="9.9"/>
<circle cx="997.2" cy="1489.0" r="9.9"/>
<circle cx="1013.9" cy="1496.6" r="9.9"/>
<circle cx="1010.1" cy="1483.7" r="9.9"/>
<circle cx="998.7" cy="1532.9" r="9.9"/>
<circle cx="1012.0" cy="1529.6" r="9.9"/>
<circle cx="1000.1" cy="1550.1" r="9.9"/>
<circle cx="996.0" cy="1569.1" r="9.9"/>
<circle cx="1007.1" cy="1618.1" r="9.9"/>
<circle cx="1197.9" cy="1464.0" r="9.9"/>
<circle cx="1195.6" cy="1478.0" r="9.9"/>
<circle cx="1200.1" cy="1549.6" r="9.9"/>
<circle cx="1187.6" cy="1555.2" r="9.9"/>
<circle cx="1200.6" cy="1559.2" r="9.9"/>
<circle cx="1156.5" cy="1566.2" r="9.9"/>
<circle cx="1184.6" cy="1571.2" r="9.9"/>
<circle cx="1199.6" cy="1574.2" r="9.9"/>
<circle cx="1182.1" cy="1687.6" r="9.9"/>
<circle cx="1247.3" cy="1674.8" r="9.9"/>
<circle cx="1248.2" cy="1756.2" r="9.9"/>
<circle cx="1365.0" cy="1872.4" r="9.9"/>
</g>
<g clip-path="url(#clipf)" fill="none" stroke="#2b2b2b">
<line x1="920.3" y1="1416.0" x2="1422.3" y2="1766.6" stroke-width="1.7"/>
</g>
<g clip-path="url(#bclipf)" fill="none" stroke="#2b2b2b">
<path d="M995.8,1426.6 L1001.2,1431.4 L1006.6,1436.2 L1012.0,1440.9 L1017.4,1445.6 L1022.8,1450.3 L1028.2,1454.9 L1033.6,1459.4 L1039.0,1463.9 L1044.4,1468.4 L1049.8,1472.8 L1055.2,1477.1 L1060.6,1481.4 L1066.0,1485.6 L1071.4,1489.8 L1076.8,1493.9 L1082.2,1497.9 L1087.6,1501.8 L1093.0,1505.6 L1098.4,1509.4 L1103.8,1513.1 L1109.2,1516.7 L1114.6,1520.2 L1120.0,1523.7 L1125.4,1527.1 L1130.8,1530.4 L1136.2,1533.7 L1141.6,1536.9 L1147.0,1540.0 L1152.4,1543.1 L1157.8,1546.2 L1163.2,1549.1 L1168.6,1552.1 L1174.0,1555.0 L1179.4,1557.8 L1184.8,1560.6 L1190.2,1563.4 L1195.6,1566.1 L1201.0,1568.8 L1206.4,1571.5 L1211.7,1574.2 L1217.1,1576.8 L1222.5,1579.4 L1227.9,1582.0 L1233.3,1584.6 L1238.7,1587.1 L1244.1,1589.6 L1249.5,1592.2 L1254.9,1594.7 L1260.3,1597.1 L1265.7,1599.6 L1271.1,1602.1 L1276.5,1604.5 L1281.9,1607.0 L1287.3,1609.4 L1292.7,1611.8 L1298.1,1614.2 L1303.5,1616.7 L1308.9,1619.0 L1314.3,1621.4 L1319.7,1623.8 L1325.1,1626.2 L1330.5,1628.6 L1335.9,1630.9 L1341.3,1633.3 L1346.7,1635.7 L1352.1,1638.0 L1357.5,1640.4 L1362.9,1642.7 L1368.3,1645.0 L1373.7,1647.4 L1379.1,1649.7 L1384.5,1652.0 L1389.9,1654.3 L1395.3,1656.7 L1400.7,1659.0 L1406.1,1661.3 L1411.5,1663.6 L1416.9,1665.9 L1422.3,1668.2" stroke-width="1.9" stroke="#363636" stroke-dasharray="6 6.3"/>
<path d="M995.8,1510.9 L1001.2,1513.6 L1006.6,1516.4 L1012.0,1519.2 L1017.4,1522.0 L1022.8,1524.9 L1028.2,1527.8 L1033.6,1530.8 L1039.0,1533.8 L1044.4,1536.9 L1049.8,1540.1 L1055.2,1543.3 L1060.6,1546.5 L1066.0,1549.9 L1071.4,1553.3 L1076.8,1556.7 L1082.2,1560.3 L1087.6,1563.9 L1093.0,1567.6 L1098.4,1571.3 L1103.8,1575.2 L1109.2,1579.1 L1114.6,1583.1 L1120.0,1587.2 L1125.4,1591.3 L1130.8,1595.5 L1136.2,1599.8 L1141.6,1604.2 L1147.0,1608.6 L1152.4,1613.0 L1157.8,1617.5 L1163.2,1622.1 L1168.6,1626.7 L1174.0,1631.4 L1179.4,1636.1 L1184.8,1640.8 L1190.2,1645.6 L1195.6,1650.4 L1201.0,1655.2 L1206.4,1660.0 L1211.7,1664.9 L1217.1,1669.8 L1222.5,1674.8 L1227.9,1679.7 L1233.3,1684.7 L1238.7,1689.7 L1244.1,1694.7 L1249.5,1699.7 L1254.9,1704.8 L1260.3,1709.8 L1265.7,1714.9 L1271.1,1720.0 L1276.5,1725.1 L1281.9,1730.2 L1287.3,1735.3 L1292.7,1740.4 L1298.1,1745.5 L1303.5,1750.6 L1308.9,1755.8 L1314.3,1760.9 L1319.7,1766.1 L1325.1,1771.3 L1330.5,1776.4 L1335.9,1781.6 L1341.3,1786.8 L1346.7,1792.0 L1352.1,1797.2 L1357.5,1802.4 L1362.9,1807.6 L1368.3,1812.8 L1373.7,1818.0 L1379.1,1823.2 L1384.5,1828.4 L1389.9,1833.6 L1395.3,1838.8 L1400.7,1844.0 L1406.1,1849.3 L1411.5,1854.5 L1416.9,1859.7 L1422.3,1865.0" stroke-width="1.9" stroke="#363636" stroke-dasharray="6 6.3"/>
</g>
<g stroke="#8a8a8a" stroke-width="1.6" fill="none">
<line x1="920.3" y1="1354.8" x2="920.3" y2="1897.4"/>
<line x1="920.3" y1="1897.4" x2="1489.8" y2="1897.4"/>
</g>
<g stroke="#2a2a2a" stroke-width="1.8" fill="none">
<line x1="907.3" y1="1381.6" x2="920.3" y2="1381.6"/>
<line x1="907.3" y1="1473.6" x2="920.3" y2="1473.6"/>
<line x1="907.3" y1="1565.7" x2="920.3" y2="1565.7"/>
<line x1="907.3" y1="1657.7" x2="920.3" y2="1657.7"/>
<line x1="907.3" y1="1749.8" x2="920.3" y2="1749.8"/>
<line x1="907.3" y1="1841.8" x2="920.3" y2="1841.8"/>
<line x1="920.3" y1="1897.4" x2="920.3" y2="1910.2"/>
<line x1="1010.5" y1="1897.4" x2="1010.5" y2="1910.2"/>
<line x1="1100.7" y1="1897.4" x2="1100.7" y2="1910.2"/>
<line x1="1190.9" y1="1897.4" x2="1190.9" y2="1910.2"/>
<line x1="1281.1" y1="1897.4" x2="1281.1" y2="1910.2"/>
<line x1="1371.3" y1="1897.4" x2="1371.3" y2="1910.2"/>
<line x1="1461.5" y1="1897.4" x2="1461.5" y2="1910.2"/>
</g>
<g font-family='"Liberation Sans", sans-serif' font-size="28" fill="#000">
<text x="900.8" y="1394.9" text-anchor="end">0</text>
<text x="900.8" y="1486.9" text-anchor="end">-<tspan dx="2.5">250</tspan></text>
<text x="900.8" y="1579.0" text-anchor="end">-<tspan dx="2.5">500</tspan></text>
<text x="900.8" y="1671.0" text-anchor="end">-<tspan dx="2.5">750</tspan></text>
<text x="900.8" y="1763.1" text-anchor="end">-<tspan dx="2.5">1000</tspan></text>
<text x="900.8" y="1855.1" text-anchor="end">-<tspan dx="2.5">1250</tspan></text>
<text x="921.1" y="1944.1" text-anchor="middle">10</text>
<text x="1011.3" y="1944.1" text-anchor="middle">15</text>
<text x="1101.5" y="1944.1" text-anchor="middle">20</text>
<text x="1191.7" y="1944.1" text-anchor="middle">25</text>
<text x="1281.9" y="1944.1" text-anchor="middle">30</text>
<text x="1372.1" y="1944.1" text-anchor="middle">35</text>
<text x="1462.3" y="1944.1" text-anchor="middle">40</text>
</g>
<text transform="translate(807.2,1738.2) rotate(-90)" font-family='"Liberation Sans", sans-serif' font-size="42" textLength="182.0" lengthAdjust="spacing">Climb (m)</text>
<text x="1434.6" y="1401.8" font-family='"Liberation Sans", sans-serif' font-size="64">f</text>
<text x="564.7" y="2022.7" font-family='"Liberation Sans", sans-serif' font-size="43">Length of sea narrow</text>
<text x="403.0" y="2084.6" font-family='"Liberation Sans", sans-serif' font-size="36.6">(Distance to Africa from European shore; km)</text>
</svg>
</body></html>
